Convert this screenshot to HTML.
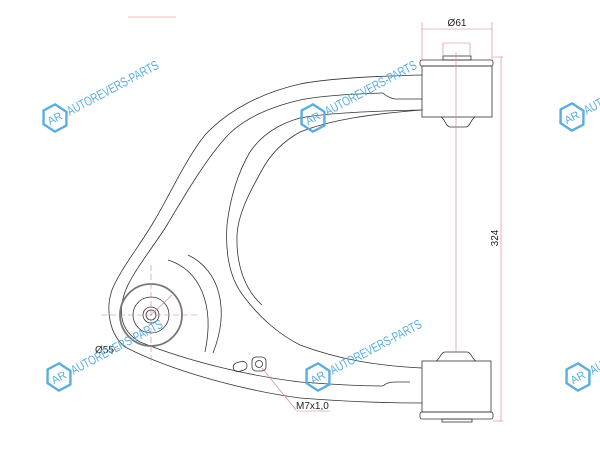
<!DOCTYPE html>
<html><head><style>body{margin:0;background:#fff}svg{display:block}</style></head><body>
<svg width="600" height="450" viewBox="0 0 600 450" xmlns="http://www.w3.org/2000/svg" font-family="Liberation Sans, sans-serif">
<g fill="none" stroke="#333" stroke-width="0.8">
<!-- arm outer -->
<path d="M422,75 C380,76 330,78 300,84 C265,92 230,108 205,135 C185,160 170,195 153,223 C140,245 120,270 112,290 C105,310 110,335 125,347 C170,370 240,390 300,398 C350,402 390,403 422,403"/>
<path d="M383,93 C350,94 320,96 300,100 C270,107 245,118 228,135 C205,160 185,195 167,225 C150,252 130,275 124,295 C118,315 122,332 140,342 C190,362 250,376 300,382 C340,385 370,386 383,386"/>
<path d="M383,93 C386,96 390,98 395,99 L422,99"/>
<path d="M383,386 C386,383 390,382 395,382 L410,382"/>
<path d="M422,110 C370,111 325,113 300,118 C275,125 260,137 250,152 C238,172 230,198 227,225 C225,255 230,280 245,298 C260,318 280,335 300,345 C340,360 380,366 422,368"/>
<path d="M422,110 C370,114 330,120 300,132 C282,142 270,155 262,170 C248,195 238,215 237,235 C236,265 245,290 262,305"/>
<!-- arcs -->
<path d="M168,260 C200,270 215,305 205,352"/>
<path d="M188,255 C220,270 230,310 213,353"/>
<!-- top bushing -->
<rect x="422" y="66" width="70" height="51"/>
<rect x="420" y="60" width="73" height="6" rx="2"/>
<rect x="443" y="56" width="28" height="4"/>
<path d="M441,117 C445,119 446,127 450,127 L466,127 C470,127 471,119 475,117"/>
<!-- bottom bushing -->
<rect x="422" y="361" width="69" height="51"/>
<rect x="420" y="412" width="73" height="7" rx="2"/>
<rect x="442" y="419" width="30" height="3"/>
<path d="M436,361 C440,359 441,352 445,352 L467,352 C471,352 472,359 476,361"/>
<!-- ball joint -->
<circle cx="151" cy="315" r="31" stroke-width="1.8" stroke="#777"/>
<circle cx="151" cy="315" r="18"/>
<circle cx="151" cy="315" r="8"/>
<circle cx="151" cy="315" r="5"/>
<!-- holes -->
<rect x="233" y="362" width="14" height="9" rx="4.5" transform="rotate(-15 240 366)"/>
<rect x="252" y="357" width="14" height="14" rx="4"/>
<circle cx="259" cy="364" r="3.5"/>
</g>
<g stroke="#d47a8a" stroke-width="0.6" fill="none">
<line x1="128" y1="17" x2="176" y2="17"/>
<line x1="101" y1="315" x2="200" y2="315" stroke-dasharray="6,3"/>
<line x1="151" y1="265" x2="151" y2="365" stroke-dasharray="6,3"/>
<line x1="151" y1="315" x2="172" y2="295"/>
<line x1="105" y1="353" x2="120" y2="348"/>
<line x1="422" y1="22" x2="422" y2="60"/>
<line x1="492" y1="22" x2="492" y2="60"/>
<line x1="422" y1="29" x2="492" y2="29"/>
<line x1="443" y1="43" x2="470" y2="43"/>
<line x1="443" y1="43" x2="443" y2="56"/>
<line x1="470" y1="43" x2="470" y2="56"/>
<line x1="456" y1="52" x2="456" y2="352"/>
<line x1="493" y1="57" x2="503" y2="57"/>
<line x1="493" y1="421" x2="503" y2="421"/>
<line x1="501" y1="57" x2="501" y2="421"/>
<line x1="262" y1="368" x2="296" y2="410"/>
<line x1="296" y1="411" x2="330" y2="411"/>
</g>
<g font-size="10" fill="#222">
<text x="457" y="26" text-anchor="middle">Ø61</text>
<text x="498" y="238" text-anchor="middle" transform="rotate(-90 498 238)" font-size="10">324</text>
<text x="95" y="353">Ø55</text>
<text x="296" y="409">M7x1,0</text>
</g>
<g fill="none" stroke="#5aaede" stroke-width="2.4" font-size="13">
<g transform="translate(55,118) rotate(-28)"><polygon points="-13,0 -6.5,-12 6.5,-12 13,0 6.5,12 -6.5,12"/><text x="-8" y="4" font-size="11" fill="#5aaede" stroke="none">AR</text><text x="14" y="5" fill="#5aaede" stroke="none" textLength="102" lengthAdjust="spacingAndGlyphs">AUTOREVERS-PARTS</text></g>
<g transform="translate(313,118) rotate(-28)"><polygon points="-13,0 -6.5,-12 6.5,-12 13,0 6.5,12 -6.5,12"/><text x="-8" y="4" font-size="11" fill="#5aaede" stroke="none">AR</text><text x="14" y="5" fill="#5aaede" stroke="none" textLength="102" lengthAdjust="spacingAndGlyphs">AUTOREVERS-PARTS</text></g>
<g transform="translate(572,117) rotate(-28)"><polygon points="-13,0 -6.5,-12 6.5,-12 13,0 6.5,12 -6.5,12"/><text x="-8" y="4" font-size="11" fill="#5aaede" stroke="none">AR</text><text x="14" y="5" fill="#5aaede" stroke="none" textLength="102" lengthAdjust="spacingAndGlyphs">AUTOREVERS-PARTS</text></g>
<g transform="translate(59,377) rotate(-28)"><polygon points="-13,0 -6.5,-12 6.5,-12 13,0 6.5,12 -6.5,12"/><text x="-8" y="4" font-size="11" fill="#5aaede" stroke="none">AR</text><text x="14" y="5" fill="#5aaede" stroke="none" textLength="102" lengthAdjust="spacingAndGlyphs">AUTOREVERS-PARTS</text></g>
<g transform="translate(318,377) rotate(-28)"><polygon points="-13,0 -6.5,-12 6.5,-12 13,0 6.5,12 -6.5,12"/><text x="-8" y="4" font-size="11" fill="#5aaede" stroke="none">AR</text><text x="14" y="5" fill="#5aaede" stroke="none" textLength="102" lengthAdjust="spacingAndGlyphs">AUTOREVERS-PARTS</text></g>
<g transform="translate(578,377) rotate(-28)"><polygon points="-13,0 -6.5,-12 6.5,-12 13,0 6.5,12 -6.5,12"/><text x="-8" y="4" font-size="11" fill="#5aaede" stroke="none">AR</text><text x="14" y="5" fill="#5aaede" stroke="none" textLength="102" lengthAdjust="spacingAndGlyphs">AUTOREVERS-PARTS</text></g>
</g>
</svg>
</body></html>
